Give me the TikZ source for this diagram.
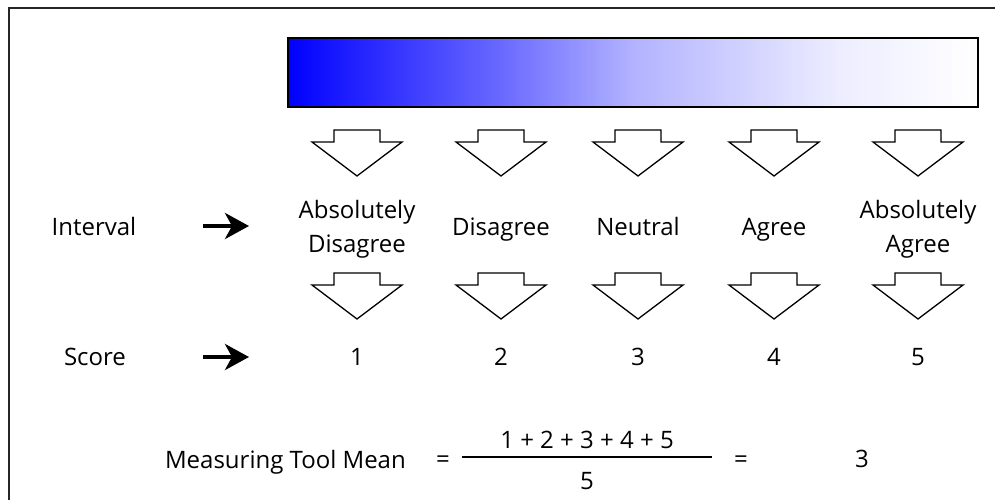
\documentclass[tikz,border=0pt]{standalone}
\usepackage{fontspec}
\setmainfont{Open Sans}
\usetikzlibrary{arrows.meta}

% Blue-to-white fade of the scale bar
\pgfdeclarehorizontalshading{scalefade}{100bp}{color(0bp)=(blue); color(25bp)=(blue);
    color(40bp)=(blue!60); color(50bp)=(blue!30); color(65bp)=(blue!7);
    color(75bp)=(white); color(100bp)=(white)}

\tikzset{
    lbl/.style={font=\fontsize{24}{34}\selectfont, align=center, inner sep=0pt},
    bigdown/.pic={
        \draw[line width=1.3pt, fill=white, line join=miter]
            (-23,0) -- (23,0) -- (23,12) -- (45,12) -- (0,46) -- (-45,12) -- (-23,12) -- cycle;
    }
}

\begin{document}
\begin{tikzpicture}[x=1pt, y=-1pt, >=Stealth]

    \useasboundingbox (0,0) rectangle (995,500);
    \clip (0,0) rectangle (995,500);

    % Frame (runs off the page at right and bottom)
    \draw[line width=1.5pt, black!85] (9,505) -- (9,8) -- (1000,8);

    % Shaded scale bar
    \draw[line width=1.3pt, shading=scalefade] (288,38) rectangle (978,107);

    % Block arrows above and below each answer
    \foreach \x in {357, 501, 638, 774, 918}{
        \pic at (\x,130) {bigdown};
        \pic at (\x,273) {bigdown};
    }

    % Interval labels
    \node[lbl] (lbl1) at (357,229) {Absolutely\\Disagree};
    \node[lbl, anchor=base] (lbl2) at (501,235) {Disagree};
    \node[lbl, anchor=base] (lbl3) at (638,235) {Neutral};
    \node[lbl, anchor=base] (lbl4) at (774,235) {Agree};
    \node[lbl] (lbl5) at (918,229) {Absolutely\\Agree};

    % Scores
    \foreach \i/\x in {1/357, 2/501, 3/638, 4/774, 5/918}
        \node[lbl] (num\i) at (\x,357) {\i};

    % Row captions with arrows
    \node[lbl] (interval) at (94,226) {Interval};
    \node[lbl] (score) at (95,357) {Score};

    \coordinate (ia) at (203,226);
    \coordinate (ib) at (249,226);
    \coordinate (sa) at (203,357);
    \coordinate (sb) at (249,357);
    \draw[line width=4pt, -{Stealth[length=24pt, width=26pt, inset=7pt]}] (ia) -- (ib);
    \draw[line width=4pt, -{Stealth[length=24pt, width=26pt, inset=7pt]}] (sa) -- (sb);

    % Mean formula
    \node[lbl, anchor=east] (mean) at (406,462) {Measuring Tool Mean};
    \node[lbl] (eqa) at (443,462) {=};
    \node[lbl] (numer) at (587,440) {1 + 2 + 3 + 4 + 5};
    \node[lbl] (denom) at (587,481) {5};
    \coordinate (fl) at (462,457);
    \coordinate (fr) at (712,457);
    \draw[line width=1.2pt] (fl) -- (fr);
    \node[lbl] (eqb) at (741,462) {=};
    \node[lbl] (result) at (862,459) {3};

\end{tikzpicture}
\end{document}
